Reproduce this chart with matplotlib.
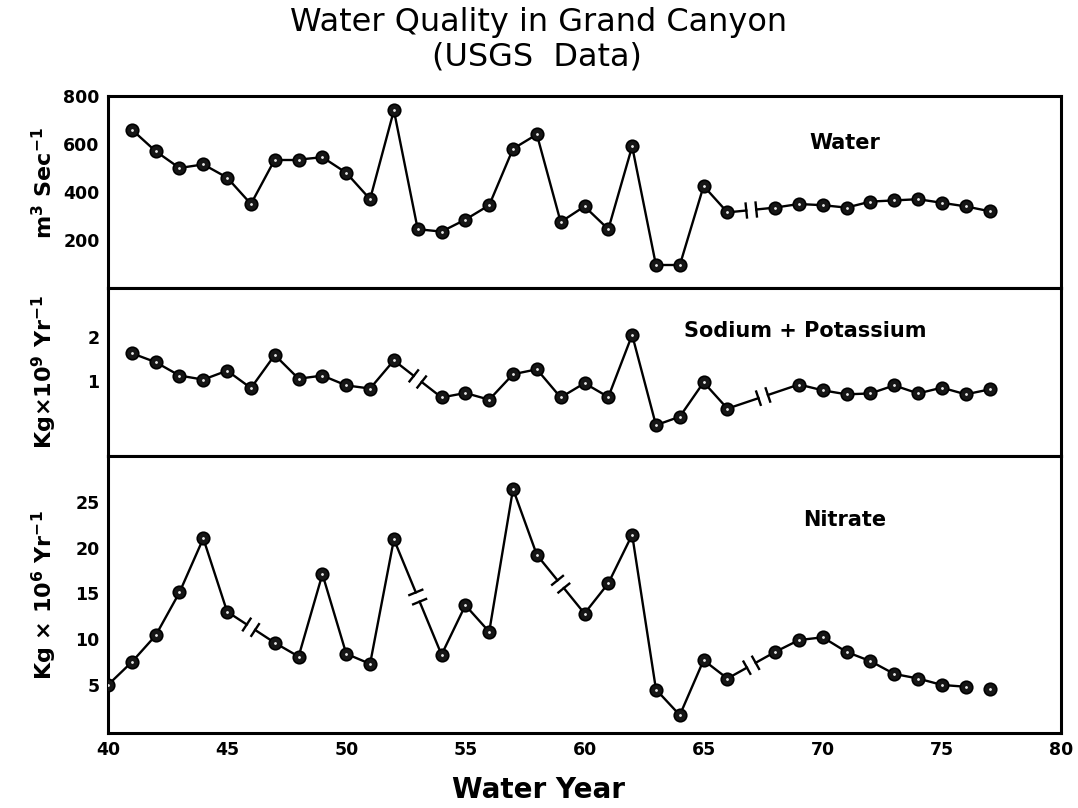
import numpy as np
import matplotlib; matplotlib.use('Agg')
import matplotlib.pyplot as plt

plt.rcParams['font.family'] = ['DejaVu Sans']
plt.rcParams['font.weight'] = 'bold'
plt.rcParams['mathtext.default'] = 'bf'

# --- data (water year, value) ---
water_years = [41, 42, 43, 44, 45, 46, 47, 48, 49, 50, 51, 52, 53, 54, 55, 56, 57, 58,
               59, 60, 61, 62, 63, 64, 65, 66, 68, 69, 70, 71, 72, 73, 74, 75, 76, 77]
water_flow = [660, 570, 500, 515, 460, 350, 535, 535, 545, 480, 370, 740, 245, 235, 285, 345, 580, 640,
              275, 340, 245, 590, 95, 95, 425, 315, 335, 350, 345, 335, 360, 365, 370, 355, 340, 320]

nak_years = [41, 42, 43, 44, 45, 46, 47, 48, 49, 50, 51, 52, 54, 55, 56, 57, 58, 59, 60,
             61, 62, 63, 64, 65, 66, 69, 70, 71, 72, 73, 74, 75, 76, 77]
nak_load = [1.63, 1.43, 1.13, 1.04, 1.24, 0.85, 1.59, 1.06, 1.13, 0.91, 0.84, 1.47, 0.64, 0.74, 0.59, 1.16, 1.27, 0.64, 0.96,
            0.65, 2.04, 0.02, 0.21, 0.98, 0.39, 0.93, 0.80, 0.71, 0.73, 0.91, 0.73, 0.86, 0.71, 0.82]

nitrate_years = [40, 41, 42, 43, 44, 45, 47, 48, 49, 50, 51, 52, 54, 55, 56, 57, 58, 60,
                 61, 62, 63, 64, 65, 66, 68, 69, 70, 71, 72, 73, 74, 75, 76, 77]
nitrate_load = [5.0, 7.5, 10.4, 15.1, 21.0, 13.0, 9.6, 8.1, 17.1, 8.4, 7.3, 20.9, 8.3, 13.7, 10.8, 26.4, 19.2, 12.8,
                16.1, 21.4, 4.5, 1.7, 7.7, 5.7, 8.6, 9.9, 10.2, 8.6, 7.6, 6.2, 5.7, 5.0, 4.8, 4.6]
nitrate_unlinked = [76]   # 76 -> 77 not joined

W, H = 1078, 808
fig = plt.figure(figsize=(W / 100, H / 100), dpi=100)
L, R = 108 / W, 1061 / W


def box(top_px, bot_px):
    return [L, 1 - bot_px / H, R - L, (bot_px - top_px) / H]


ax_w = fig.add_axes(box(96, 288))
ax_s = fig.add_axes(box(288, 456))
ax_n = fig.add_axes(box(456, 733))

ax_w.set_ylim(0, 800)
ax_w.set_yticks([200, 400, 600, 800])
ax_s.set_ylim(-0.67, 3.09)
ax_s.set_yticks([1, 2])
ax_n.set_ylim(-0.25, 30.0)
ax_n.set_yticks([5, 10, 15, 20, 25])

for ax in (ax_w, ax_s, ax_n):
    ax.set_xlim(40, 80)
    ax.set_xticks(range(40, 81, 5))
    ax.tick_params(length=0, labelsize=12.5, pad=6)
    for sp in ax.spines.values():
        sp.set_linewidth(2.2)
ax_w.tick_params(labelbottom=False)
ax_s.tick_params(labelbottom=False)


def draw(ax, years, vals, unlinked=()):
    inv = ax.transData.inverted()
    pts = ax.transData.transform(np.column_stack([years, vals]))
    for i in range(len(years) - 1):
        if years[i] in unlinked:
            continue
        p0, p1 = pts[i], pts[i + 1]
        if years[i + 1] - years[i] == 1:
            ax.plot(years[i:i + 2], vals[i:i + 2], color='k', lw=1.7, zorder=2)
            continue
        # broken line: gap with two short bars across it
        d = (p1 - p0) / np.hypot(*(p1 - p0))
        n = np.array([-d[1], d[0]])
        mid = (p0 + p1) / 2
        a, b = mid - d * 5, mid + d * 5
        for s, e in [(p0, a), (b, p1), (a - n * 7, a + n * 7), (b - n * 7, b + n * 7)]:
            q = inv.transform([s, e])
            ax.plot(q[:, 0], q[:, 1], color='k', lw=1.7, zorder=2)
    ax.plot(years, vals, 'o', ms=9, mfc='#161616', mec='k', mew=1.2, ls='none', zorder=3)
    ax.plot(years, vals, '.', ms=2, color='#e8e8e8', ls='none', zorder=4)


draw(ax_w, water_years, water_flow)
draw(ax_s, nak_years, nak_load)
draw(ax_n, nitrate_years, nitrate_load, nitrate_unlinked)

ax_w.text(845 / W, 1 - 143 / H, 'Water', transform=fig.transFigure, ha='center', va='center', fontsize=15)
ax_s.text(805 / W, 1 - 331 / H, 'Sodium + Potassium', transform=fig.transFigure, ha='center', va='center', fontsize=15)
ax_n.text(845 / W, 1 - 520 / H, 'Nitrate', transform=fig.transFigure, ha='center', va='center', fontsize=15)

fig.text(44 / W, 1 - 183 / H, 'm$^3$ Sec$^{-1}$', rotation=90, ha='center', va='center', fontsize=16)
fig.text(44 / W, 1 - 372 / H, 'Kg×10$^9$ Yr$^{-1}$', rotation=90, ha='center', va='center', fontsize=16)
fig.text(44 / W, 1 - 595 / H, 'Kg × 10$^6$ Yr$^{-1}$', rotation=90, ha='center', va='center', fontsize=16)

fig.text(539 / W, 1 - 22 / H, 'Water Quality in Grand Canyon', ha='center', va='center',
         fontsize=23, fontweight='normal')
fig.text(537 / W, 1 - 57 / H, '(USGS  Data)', ha='center', va='center', fontsize=23, fontweight='normal')
fig.text(539 / W, 1 - 790 / H, 'Water Year', ha='center', va='center', fontsize=20)

fig.savefig('out.png', dpi=100)
print('Saved out.png')
